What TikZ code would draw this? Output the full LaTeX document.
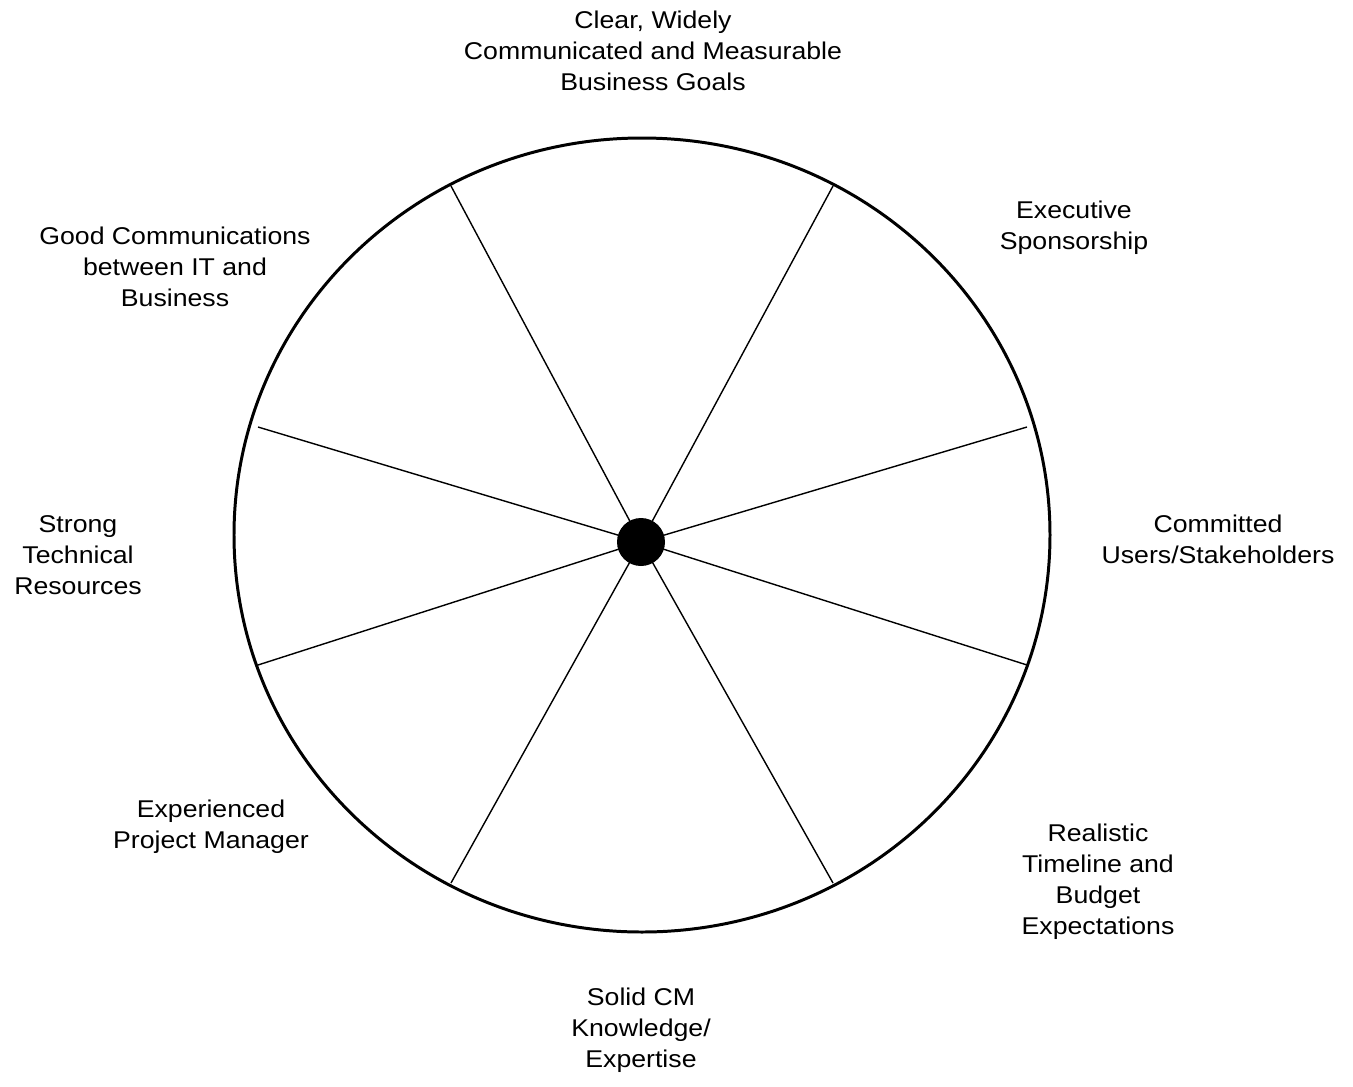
\documentclass[tikz,border=0pt]{standalone}
\usepackage{fontspec}
\setmainfont{Liberation Sans}[FakeStretch=1.1]
\usepackage{tikz}

\begin{document}
\begin{tikzpicture}[x=0.02cm,y=-0.02cm,
    every node/.style={align=center,font=\fontsize{13.8}{17.6}\selectfont},
    rim/.style={line width=1.7pt},
    spoke/.style={line width=0.8pt}]
  \useasboundingbox (0,0) rectangle (1353,1086);
  % wheel
  \draw[rim] (642,535) ellipse [x radius=408,y radius=397];
  \node[circle,fill=black,minimum size=0.96cm,inner sep=0pt] (hub) at (641,542) {};
  \coordinate (s1) at (451,186);
  \coordinate (s2) at (833,186);
  \coordinate (s3) at (1027,427);
  \coordinate (s4) at (1027,665);
  \coordinate (s5) at (833,883);
  \coordinate (s6) at (451,883);
  \coordinate (s7) at (258,665);
  \coordinate (s8) at (258,427);
  \foreach \s in {s1,s2,s3,s4,s5,s6,s7,s8}
    \draw[spoke] (hub.center) -- (\s);
  % labels
  \node (goals) at (653,51) {Clear, Widely\\Communicated and Measurable\\Business Goals};
  \node (sponsor) at (1074,228) {Executive\\Sponsorship};
  \node (users) at (1218,539) {Committed\\Users/Stakeholders};
  \node (timeline) at (1098,882) {Realistic\\Timeline and\\Budget\\Expectations};
  \node (cm) at (641,1030) {Solid CM\\Knowledge/\\Expertise};
  \node (pm) at (211,827) {Experienced\\Project Manager};
  \node (tech) at (78,555) {Strong\\Technical\\Resources};
  \node (comms) at (175,267) {Good Communications\\between IT and\\Business};
\end{tikzpicture}
\end{document}
